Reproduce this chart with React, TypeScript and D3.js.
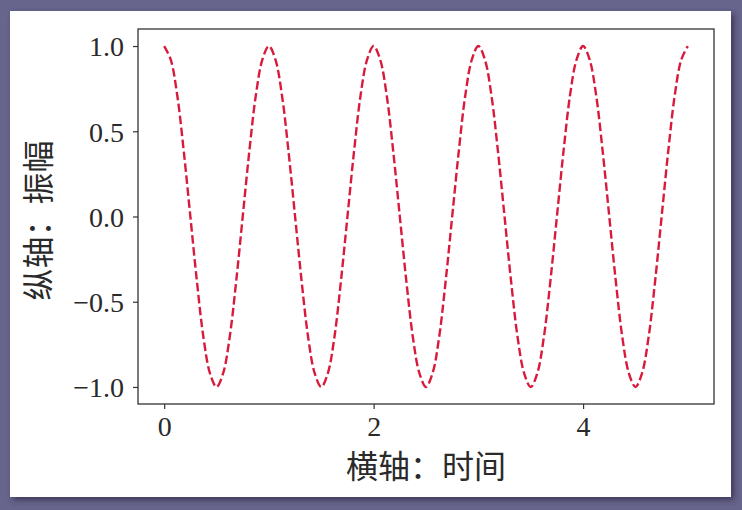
import React, { useEffect, useRef } from 'react';
import * as d3 from 'd3';

// sample times (s) and amplitudes, 16 samples per period
const times = [
  0, 0.0625, 0.125, 0.1875, 0.25, 0.3125, 0.375, 0.4375, 0.5, 0.5625, 0.625, 0.6875, 0.75, 0.8125, 0.875, 0.9375,
  1, 1.0625, 1.125, 1.1875, 1.25, 1.3125, 1.375, 1.4375, 1.5, 1.5625, 1.625, 1.6875, 1.75, 1.8125, 1.875, 1.9375,
  2, 2.0625, 2.125, 2.1875, 2.25, 2.3125, 2.375, 2.4375, 2.5, 2.5625, 2.625, 2.6875, 2.75, 2.8125, 2.875, 2.9375,
  3, 3.0625, 3.125, 3.1875, 3.25, 3.3125, 3.375, 3.4375, 3.5, 3.5625, 3.625, 3.6875, 3.75, 3.8125, 3.875, 3.9375,
  4, 4.0625, 4.125, 4.1875, 4.25, 4.3125, 4.375, 4.4375, 4.5, 4.5625, 4.625, 4.6875, 4.75, 4.8125, 4.875, 4.9375,
  5,
];
const amplitude = [
  1, 0.92, 0.71, 0.38, 0, -0.38, -0.71, -0.92, -1, -0.92, -0.71, -0.38, 0, 0.38, 0.71, 0.92,
  1, 0.92, 0.71, 0.38, 0, -0.38, -0.71, -0.92, -1, -0.92, -0.71, -0.38, 0, 0.38, 0.71, 0.92,
  1, 0.92, 0.71, 0.38, 0, -0.38, -0.71, -0.92, -1, -0.92, -0.71, -0.38, 0, 0.38, 0.71, 0.92,
  1, 0.92, 0.71, 0.38, 0, -0.38, -0.71, -0.92, -1, -0.92, -0.71, -0.38, 0, 0.38, 0.71, 0.92,
  1, 0.92, 0.71, 0.38, 0, -0.38, -0.71, -0.92, -1, -0.92, -0.71, -0.38, 0, 0.38, 0.71, 0.92,
  1,
];
const xTicks = [0, 2, 4];
const yTicks = [-1.0, -0.5, 0.0, 0.5, 1.0];
const xLabel = '横轴：时间';
const yLabel = '纵轴：振幅';

const width = 742;
const height = 510;
const plot = { left: 138, top: 29, right: 714, bottom: 404 };

export default function App() {
  const ref = useRef<SVGSVGElement>(null);

  useEffect(() => {
    const svg = d3.select(ref.current);
    svg.selectAll('*').remove();

    // page background + card with shadow
    const defs = svg.append('defs');
    const f = defs.append('filter').attr('id', 'shadow').attr('x', '-5%').attr('y', '-5%').attr('width', '110%').attr('height', '110%');
    f.append('feDropShadow').attr('dx', 3).attr('dy', 3).attr('stdDeviation', 3).attr('flood-color', '#2e2c48').attr('flood-opacity', 0.8);

    svg.append('rect').attr('width', width).attr('height', height).attr('fill', '#67658c');
    svg.append('rect')
      .attr('x', 10).attr('y', 11).attr('width', 721).attr('height', 486)
      .attr('fill', '#ffffff').attr('filter', 'url(#shadow)');

    const x = d3.scaleLinear().domain([-0.25, 5.25]).range([plot.left, plot.right]);
    const y = d3.scaleLinear().domain([-1.1, 1.1]).range([plot.bottom, plot.top]);

    const data = times.map((t, i) => [t, amplitude[i]] as [number, number]);
    const line = d3.line<[number, number]>()
      .x((d) => x(d[0]))
      .y((d) => y(d[1]))
      .curve(d3.curveCatmullRom.alpha(0.5));

    svg.append('path')
      .datum(data)
      .attr('d', line)
      .attr('fill', 'none')
      .attr('stroke', '#d81b3c')
      .attr('stroke-width', 2.4)
      .attr('stroke-dasharray', '8.5,3.5');

    const tickFont = '"Liberation Serif", serif';

    const xAxis = svg.append('g')
      .attr('transform', `translate(0,${plot.bottom})`)
      .call(d3.axisBottom(x).tickValues(xTicks).tickFormat(d3.format('d')).tickSize(5).tickPadding(7));
    xAxis.select('.domain').remove();
    xAxis.selectAll('line').attr('stroke', '#333').attr('stroke-width', 1.2);
    xAxis.selectAll('text').attr('fill', '#2a2a2a').style('font-family', tickFont).style('font-size', '28px');

    const yAxis = svg.append('g')
      .attr('transform', `translate(${plot.left},0)`)
      .call(d3.axisLeft(y).tickValues(yTicks).tickFormat((d) => d3.format('.1f')(d as number).replace('-', '\u2212')).tickSize(5).tickPadding(9));
    yAxis.select('.domain').remove();
    yAxis.selectAll('line').attr('stroke', '#333').attr('stroke-width', 1.2);
    yAxis.selectAll('text').attr('fill', '#2a2a2a').attr('dy', '0.35em').style('font-family', tickFont).style('font-size', '28px');

    svg.append('rect')
      .attr('x', plot.left).attr('y', plot.top)
      .attr('width', plot.right - plot.left).attr('height', plot.bottom - plot.top)
      .attr('fill', 'none').attr('stroke', '#333').attr('stroke-width', 1.3);

    const cjk = '"Noto Sans CJK SC", sans-serif';
    svg.append('text')
      .attr('x', (plot.left + plot.right) / 2).attr('y', 478)
      .attr('text-anchor', 'middle')
      .attr('fill', '#2a2a2a')
      .style('font-family', cjk).style('font-size', '32px')
      .text(xLabel);

    svg.append('text')
      .attr('transform', `translate(50,${(plot.top + plot.bottom) / 2 + 4}) rotate(-90)`)
      .attr('text-anchor', 'middle')
      .attr('fill', '#2a2a2a')
      .style('font-family', cjk).style('font-size', '32px')
      .text(yLabel);
  }, []);

  return (
    <div style={{ position: 'fixed', left: 0, top: 0 }}>
      <svg ref={ref} width={width} height={height} style={{ display: 'block' }} />
    </div>
  );
}
